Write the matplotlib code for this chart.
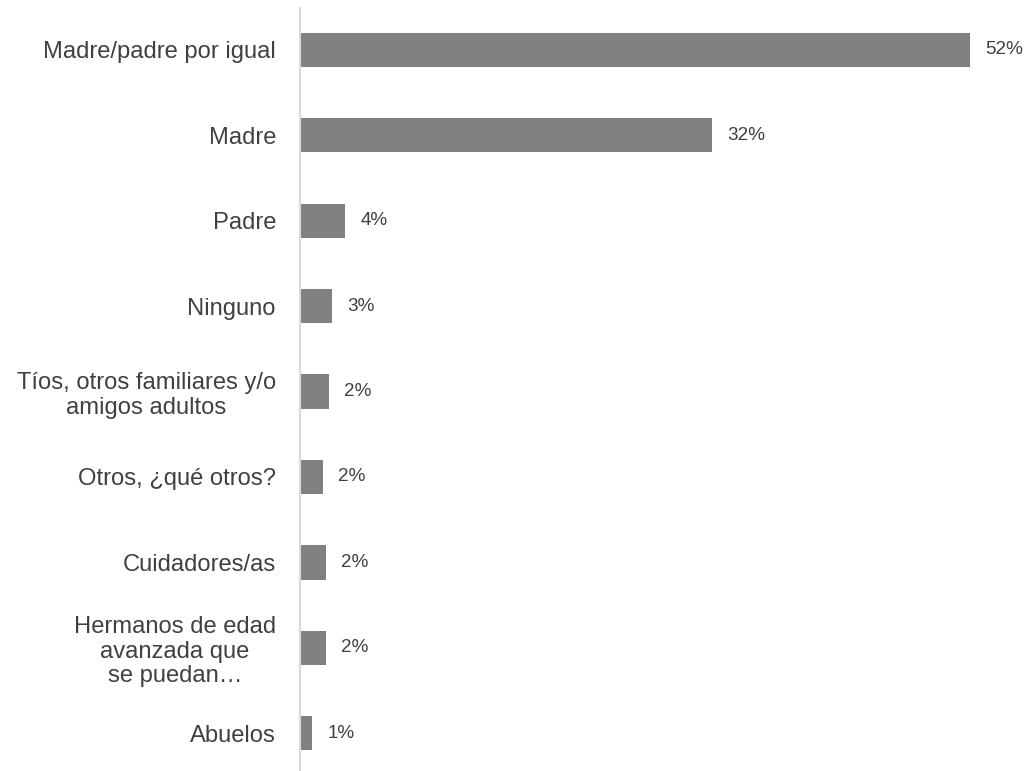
import numpy as np
import matplotlib
matplotlib.use("Agg")
import matplotlib.pyplot as plt

# categories, top to bottom
categories = [
    "Madre/padre por igual",
    "Madre",
    "Padre",
    "Ninguno",
    "Tíos, otros familiares y/o\namigos adultos",
    "Otros, ¿qué otros?",
    "Cuidadores/as",
    "Hermanos de edad\navanzada que\nse puedan…",
    "Abuelos",
]
# values (%)
values = [52.0, 32.0, 3.5, 2.5, 2.25, 1.8, 2.0, 2.0, 0.93]
# labels as printed on the chart
value_labels = ["52%", "32%", "4%", "3%", "2%", "2%", "2%", "2%", "1%"]

plt.rcParams['font.family'] = ['Liberation Sans', 'DejaVu Sans']

text_color = '#404040'
bar_color = '#808080'

fig = plt.figure(figsize=(10.27, 7.71), dpi=100)
# axes from x=300px to right edge, y from 8px to 770px
ax = fig.add_axes([300 / 1027, 1 - 770 / 771, 727 / 1027, 762 / 771])

y = np.arange(len(categories))
ax.barh(y, values, height=0.4, color=bar_color)

ax.set_xlim(0, 52 * 727 / 670)
ax.set_ylim(8.43, -0.49)

for yi, v, lab in zip(y, values, value_labels):
    ax.annotate(lab, (v, yi), xytext=(11, 0), textcoords='offset points',
                va='center', ha='left', fontsize=13.6, color=text_color)

ax.set_yticks(y)
ax.set_yticklabels(categories, fontsize=17.1, color=text_color,
                   multialignment='center', linespacing=1.15)
ax.tick_params(axis='y', length=0, pad=17.3)
ax.set_xticks([])

for s in ['top', 'right', 'bottom']:
    ax.spines[s].set_visible(False)
ax.spines['left'].set_color('#d9d9d9')
ax.spines['left'].set_linewidth(1.5)

fig.savefig('out.png', dpi=100)
